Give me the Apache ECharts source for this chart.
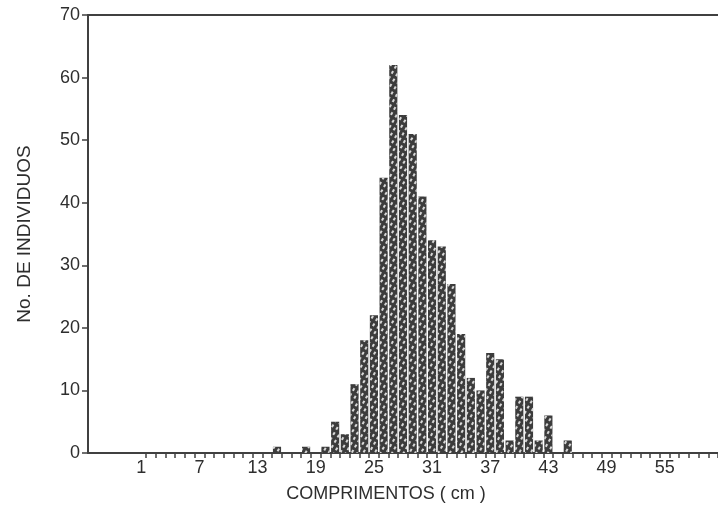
<!DOCTYPE html>
<html>
<head>
<meta charset="utf-8">
<script src="https://cdn.jsdelivr.net/npm/echarts@6/dist/echarts.min.js"></script>
<style>
  html, body { margin: 0; padding: 0; background: #fff; }
  #chart { width: 718px; height: 517px; }
</style>
</head>
<body>
<div id="chart"></div>
<script>
// comprimentos (cm) com indivíduos observados
const lengths = [15, 16, 17, 18, 19, 20, 21, 22, 23, 24, 25, 26, 27, 28, 29, 30,
                 31, 32, 33, 34, 35, 36, 37, 38, 39, 40, 41, 42, 43, 44, 45];
const counts  = [1, 0, 0, 1, 0, 1, 5, 3, 11, 18, 22, 44, 62, 54, 51, 41,
                 34, 33, 27, 19, 12, 10, 16, 15, 2, 9, 9, 2, 6, 0, 2];
// eixo x: de -4 até 60, rótulos a cada 6 a partir de 1
const xStart = -4;
const xEnd = 60;
const xLabels = [1, 7, 13, 19, 25, 31, 37, 43, 49, 55];
const yTicks = [0, 10, 20, 30, 40, 50, 60, 70];

const categories = [];
for (let v = xStart; v <= xEnd; v++) categories.push(String(v));
const barData = categories.map(c => {
  const i = lengths.indexOf(Number(c));
  return i >= 0 ? counts[i] : 0;
});

const textColor = '#2e2e2e';
const lineColor = '#404040';
const font = 'Liberation Sans, Arial, sans-serif';

const myChart = echarts.init(document.getElementById('chart'));
const option = {
  animation: false,
  grid: { left: 88, right: 0, top: 15, bottom: 64 },
  xAxis: [
    {
      type: 'category',
      data: categories,
      boundaryGap: true,
      axisLine: { show: true, lineStyle: { color: lineColor, width: 2 } },
      axisTick: {
        show: true,
        inside: false,
        length: 5,
        interval: (index) => index >= 6,
        lineStyle: { color: lineColor, width: 1.5 }
      },
      axisLabel: {
        interval: (index, value) => xLabels.indexOf(Number(value)) >= 0,
        margin: 6,
        color: textColor,
        fontFamily: font,
        fontSize: 18
      },
      name: 'COMPRIMENTOS ( cm )',
      nameLocation: 'middle',
      nameGap: 32,
      nameTextStyle: { color: textColor, fontFamily: font, fontSize: 18, padding: [0, 34, 0, 0] },
      splitLine: { show: false }
    },
    {
      type: 'category',
      position: 'top',
      data: categories,
      axisLine: { show: true, lineStyle: { color: lineColor, width: 2 } },
      axisTick: { show: false },
      axisLabel: { show: false },
      splitLine: { show: false }
    }
  ],
  yAxis: {
    type: 'value',
    min: yTicks[0],
    max: yTicks[yTicks.length - 1],
    interval: 10,
    axisLine: { show: true, lineStyle: { color: lineColor, width: 2 } },
    axisTick: { show: true, length: 6, lineStyle: { color: lineColor, width: 1.5 } },
    axisLabel: { margin: 8, color: textColor, fontFamily: font, fontSize: 18 },
    splitLine: { show: false },
    name: 'No. DE INDIVIDUOS',
    nameLocation: 'middle',
    nameRotate: 90,
    nameGap: 54,
    nameTextStyle: { color: textColor, fontFamily: font, fontSize: 19 }
  },
  series: [
    {
      type: 'bar',
      data: barData,
      barWidth: '84%',
      itemStyle: {
        color: '#3c3c3c',
        decal: {
          symbol: 'rect',
          symbolSize: 1,
          color: 'rgba(255,255,255,0.8)',
          dashArrayX: [[3, 3]],
          dashArrayY: [2, 3],
          rotation: -Math.PI / 3
        }
      }
    }
  ]
};
option && myChart.setOption(option);
</script>
</body>
</html>
